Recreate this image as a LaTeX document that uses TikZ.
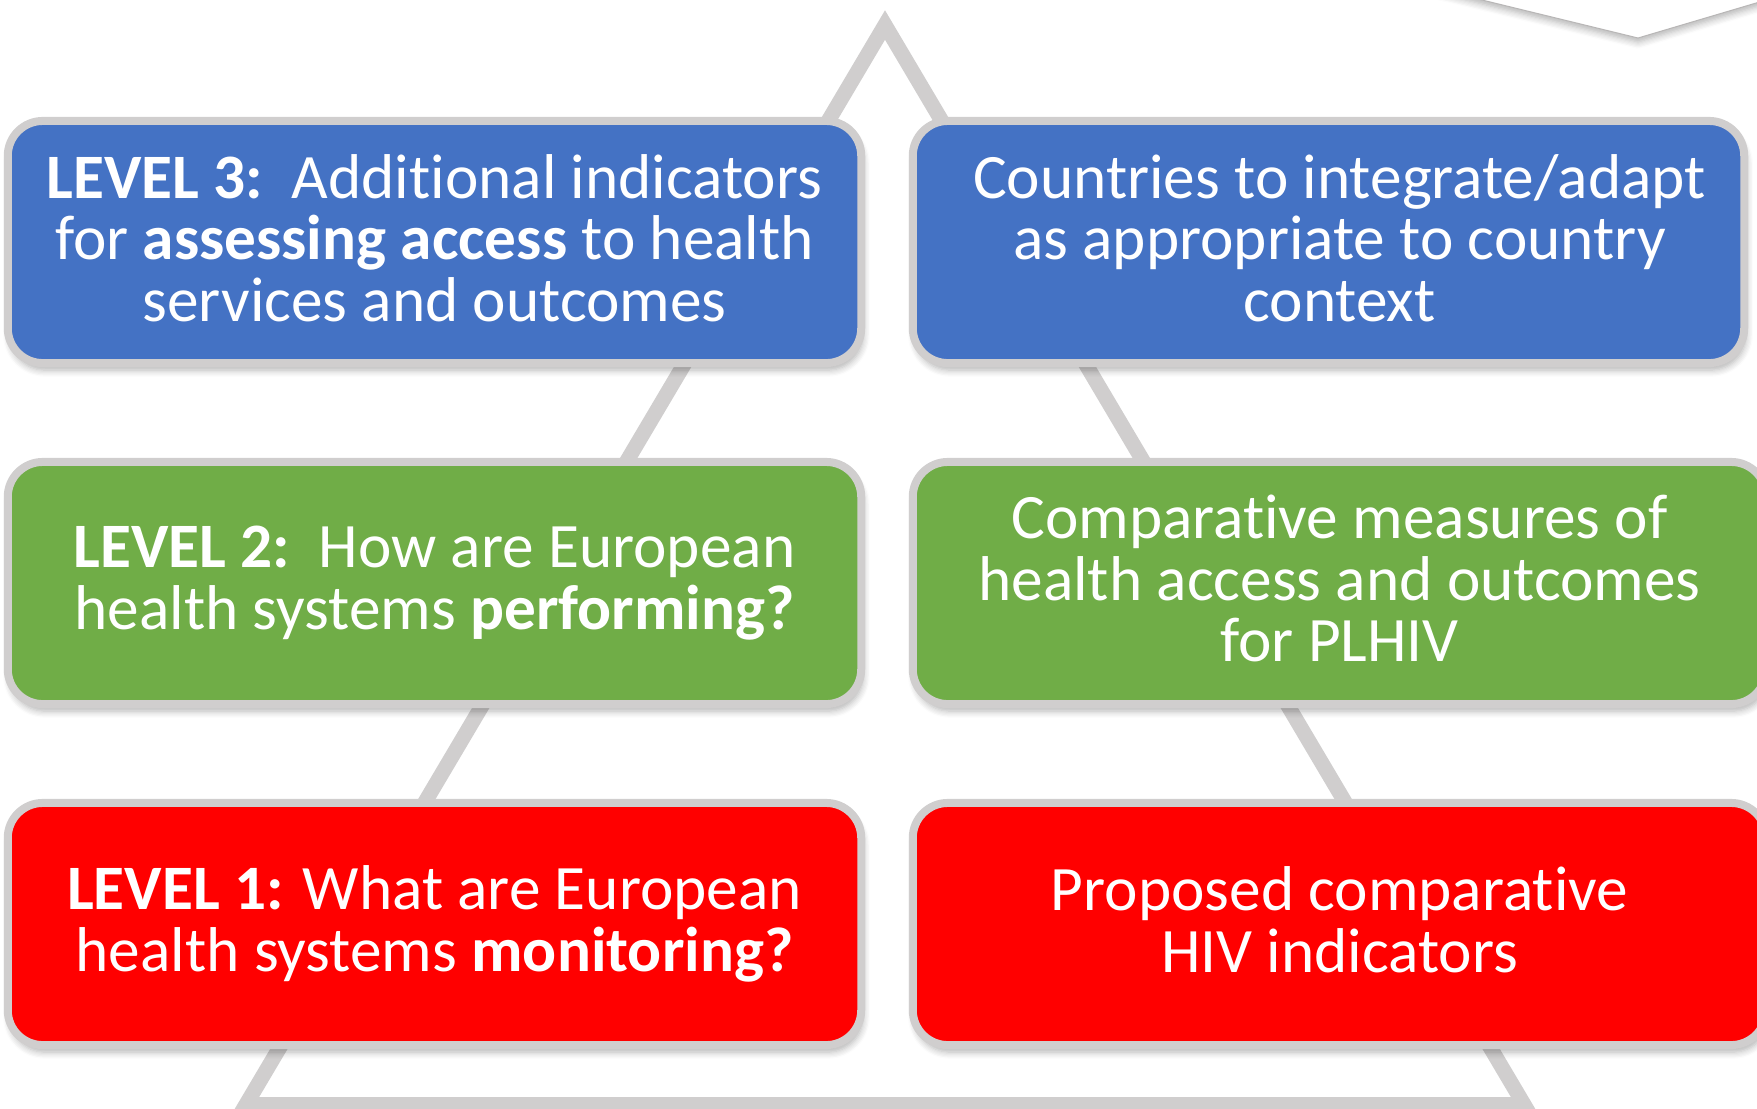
\documentclass[tikz,border=0pt]{standalone}
\usepackage{fontspec}
\setmainfont{Carlito}[Ligatures=NoCommon]
\usetikzlibrary{shadows.blur}
\definecolor{lvlblue}{HTML}{4472C4}
\definecolor{lvlgreen}{HTML}{70AD47}
\definecolor{lvlred}{HTML}{FF0000}
\definecolor{rim}{HTML}{D0CECE}

\begin{document}
\begin{tikzpicture}[x=0.01cm,y=-0.01cm]
        \useasboundingbox (0,0) rectangle (1757,1108);
        \clip (0,0) rectangle (1757,1108);

        % Setup the styles for the boxes and the pyramid
        \tikzset{box text/.style={text=white,
                                  align=center,
                                  font=\fontsize{18}{17.5}\selectfont,
                                  execute at end node={\rule[-2.5pt]{0pt}{0pt}}},
                 box style/.style={box text,
                                   rectangle,
                                   rounded corners=0.35cm,
                                   minimum width=8.53cm,
                                   minimum height=2.42cm,
                                   line width=0.08cm,
                                   draw=rim,
                                   blur shadow={shadow xshift=0.02cm,
                                                shadow yshift=-0.07cm,
                                                shadow opacity=30,
                                                shadow blur steps=6}},
                 tri style/.style={draw=rim,
                                   line width=0.15cm}}

        % Draw the pyramid behind the boxes
        \coordinate (apex)  at (885, 25);
        \coordinate (left)  at (246, 1104.5);
        \coordinate (right) at (1524, 1104.5);
        \draw[tri style] (apex) -- (left) -- (right) -- cycle;

        % Tip of the shape in the top corner
        \draw[draw=rim!70!gray, line width=0.01cm, fill=white,
              blur shadow={shadow xshift=0cm, shadow yshift=-0.04cm,
                           shadow opacity=30, shadow blur steps=6}]
            (1400, -20) -- (1638, 38) -- (1800, -10) -- (1800, -100) -- (1400, -100) -- cycle;

        % Draw the levels
        \node[box style, fill=lvlblue]  at (434.5, 242) (l3)
            {\textbf{LEVEL 3:}\ \ Additional indicators\\for \textbf{assessing access} to health\\services and outcomes};
        \node[box style, fill=lvlgreen] at (434.5, 583) (l2)
            {\textbf{LEVEL 2:}\ \ How are European\\health systems \textbf{performing?}};
        \node[box style, fill=lvlred]   at (434.5, 924) (l1)
            {\textbf{LEVEL 1:} What are European\\health systems \textbf{monitoring?}};

        % Draw the outcomes (the top box is a bit narrower, its text is not)
        \node[box style, fill=lvlblue, minimum width=8.31cm] at (1328.5, 242) (c3) {};
        \node[box text, xshift=0.11cm] at (c3)
            {Countries to integrate/adapt\\as appropriate to country\\context};
        \node[box style, fill=lvlgreen] at (1339.5, 583) (c2)
            {Comparative measures of\\health access and outcomes\\for PLHIV};
        \node[box style, fill=lvlred]   at (1339.5, 924) (c1)
            {Proposed comparative\\HIV indicators};
\end{tikzpicture}
\end{document}
